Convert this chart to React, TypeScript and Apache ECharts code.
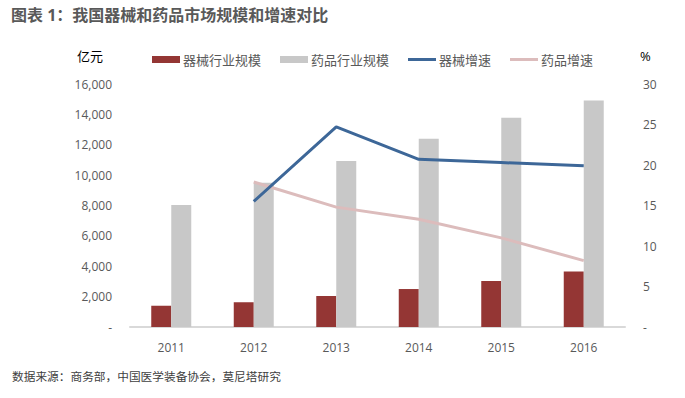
import React, { useEffect, useRef } from "react";
import * as echarts from "echarts";

const years = ["2011", "2012", "2013", "2014", "2015", "2016"];
const deviceScale = [1400, 1630, 2040, 2500, 3030, 3660];
const drugScale = [8030, 9500, 10930, 12390, 13770, 14910];
const deviceGrowth: (number | string)[] = ["-", 15.5, 24.7, 20.7, 20.3, 19.9];
const drugGrowth: (number | string)[] = ["-", 17.9, 14.8, 13.3, 11.0, 8.2];

const FONT = "'Open Sans', 'Noto Sans CJK SC', 'Noto Sans', sans-serif";
const LINE_ICON = "path://M0 0H28V3H0Z";

export default function App() {
  const ref = useRef<HTMLDivElement>(null);
  useEffect(() => {
    document.body.style.margin = "0";
    if (!ref.current) return;
    const chart = echarts.init(ref.current, undefined, { renderer: "svg" });
    chart.setOption({
      animation: false,
      backgroundColor: "#ffffff",
      textStyle: { fontFamily: FONT },
      graphic: [
        {
          type: "text",
          left: 11,
          top: 7,
          style: {
            text: "图表 1：我国器械和药品市场规模和增速对比",
            font: `bold 16px ${FONT}`,
            fill: "#595959",
          },
        },
        {
          type: "text",
          left: 77,
          top: 49,
          style: { text: "亿元", font: `13px ${FONT}`, fill: "#000000" },
        },
        {
          type: "text",
          left: 640,
          top: 49,
          style: { text: "%", font: `13px ${FONT}`, fill: "#000000" },
        },
        {
          type: "text",
          left: 12,
          top: 370,
          style: {
            text: "数据来源：商务部，中国医学装备协会，莫尼塔研究",
            font: `11.7px ${FONT}`,
            fill: "#404040",
          },
        },
      ],
      legend: {
        left: 147,
        top: 48,
        itemWidth: 28,
        itemHeight: 7,
        itemGap: 19,
        textStyle: { fontSize: 13, color: "#595959", fontFamily: FONT, padding: [0, 0, 0, -2] },
        data: [
          { name: "器械行业规模", icon: "rect" },
          { name: "药品行业规模", icon: "rect" },
          { name: "器械增速", icon: LINE_ICON },
          { name: "药品增速", icon: LINE_ICON },
        ],
      },
      grid: { left: 130, right: 60, top: 84, bottom: 71 },
      xAxis: {
        type: "category",
        data: years,
        axisLine: { show: true, lineStyle: { color: "#d9d9d9", width: 2 } },
        axisTick: { show: false },
        axisLabel: { color: "#595959", fontSize: 12, margin: 14, fontFamily: FONT },
      },
      yAxis: [
        {
          type: "value",
          min: 0,
          max: 16000,
          interval: 2000,
          splitLine: { show: false },
          axisLine: { show: false },
          axisTick: { show: false },
          axisLabel: {
            color: "#595959",
            fontSize: 12,
            margin: 18,
            fontFamily: FONT,
            formatter: (v: number) => (v === 0 ? "-" : v.toLocaleString("en-US")),
          },
        },
        {
          type: "value",
          min: 0,
          max: 30,
          interval: 5,
          splitLine: { show: false },
          axisLine: { show: false },
          axisTick: { show: false },
          axisLabel: {
            color: "#595959",
            fontSize: 12,
            margin: 18,
            fontFamily: FONT,
            formatter: (v: number) => (v === 0 ? "-" : String(v)),
          },
        },
      ],
      series: [
        {
          name: "器械行业规模",
          type: "bar",
          data: deviceScale,
          barWidth: 20,
          barGap: "0%",
          itemStyle: { color: "#943634" },
        },
        {
          name: "药品行业规模",
          type: "bar",
          data: drugScale,
          barWidth: 20,
          barGap: "0%",
          itemStyle: { color: "#c8c8c8" },
        },
        {
          name: "药品增速",
          type: "line",
          yAxisIndex: 1,
          data: drugGrowth,
          symbol: "none",
          lineStyle: { color: "#dcbcbc", width: 3 },
          itemStyle: { color: "#dcbcbc" },
        },
        {
          name: "器械增速",
          type: "line",
          yAxisIndex: 1,
          data: deviceGrowth,
          symbol: "none",
          lineStyle: { color: "#3d6798", width: 3 },
          itemStyle: { color: "#3d6798" },
        },
      ],
    });
    return () => chart.dispose();
  }, []);
  return <div ref={ref} style={{ width: 685, height: 398 }} />;
}
